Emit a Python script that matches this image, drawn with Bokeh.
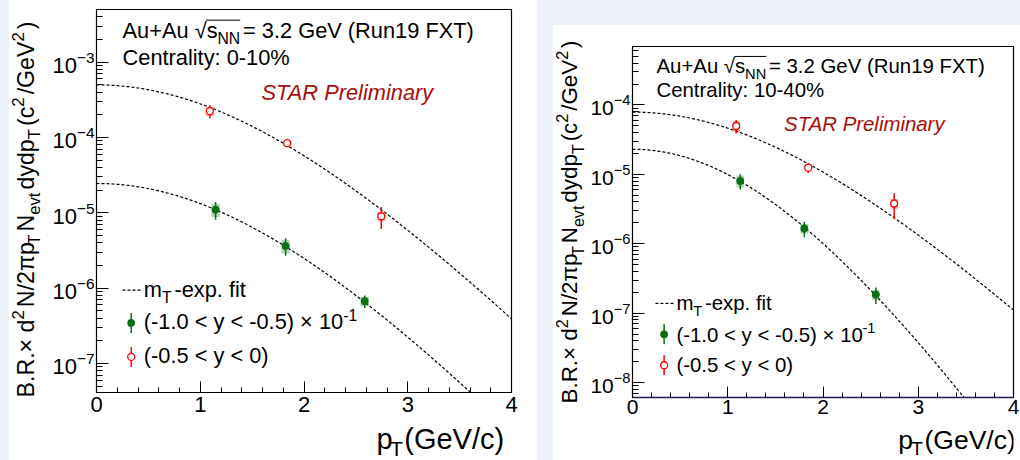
import numpy as np
from math import pi
from bokeh.plotting import figure
from bokeh.layouts import row, column
from bokeh.models import Label, Range1d, SingleIntervalTicker, LogTicker
from bokeh.embed import file_html
from bokeh.resources import INLINE

# ---------------- data ----------------
MASS = 2.991  # GeV/c^2, mT-exponential fit

# Panel 1: centrality 0-10 %
c1_pt_red = [1.093, 1.839, 2.745]
c1_y_red = [2.24e-4, 8.4e-5, 9.0e-6]
c1_stat_red = [0.45e-4, 0.9e-5, 2.9e-6]
c1_sys_red = [0.33e-4, 0.7e-5, 1.3e-6]
c1_pt_green = [1.148, 1.823, 2.585]
c1_y_green = [1.1e-5, 3.63e-6, 6.7e-7]
c1_stat_green = [2.9e-6, 0.95e-6, 1.25e-7]
c1_sys_green = [2.2e-6, 0.75e-6, 0.9e-7]
c1_fit_A = [5.0e-4, 2.45e-5]      # red, green
c1_fit_T = [0.280, 0.265]

# Panel 2: centrality 10-40 %
c2_pt_red = [1.089, 1.846, 2.747]
c2_y_red = [4.98e-5, 1.25e-5, 3.8e-6]
c2_stat_red = [1.1e-5, 0.2e-5, 1.55e-6]
c2_sys_red = [0.88e-5, 0.16e-5, 0.6e-6]
c2_pt_green = [1.131, 1.804, 2.555]
c2_y_green = [8.05e-6, 1.66e-6, 1.85e-7]
c2_stat_green = [2.0e-6, 0.42e-6, 0.5e-7]
c2_sys_green = [1.6e-6, 0.27e-6, 0.3e-7]
c2_fit_A = [7.9e-5, 2.3e-5]
c2_fit_T = [0.305, 0.194]

x_ticks_interval = 1
centralities = ["Centrality: 0-10%", "Centrality: 10-40%"]

# ---------------- styling helpers ----------------
FONT = "Liberation Sans"
RED = "#ff0000"
GREEN = "#0a6e12"
BG = "#edf2fa"
BOXW = 0.04
SCR, SUB, SUP, GAP = 0.72, 0.27, 0.42, 0.13
CEN = 0.36  # baseline -> visual centre of the glyphs

W = {' ': 278, '!': 278, '(': 333, ')': 333, '+': 584, '-': 333, '.': 278, '/': 278,
     ':': 278, '<': 584, '=': 584, '>': 584, '%': 889, '×': 584, 'π': 577, '√': 549,
     'A': 667, 'B': 667, 'C': 722, 'F': 611, 'G': 778, 'N': 722, 'P': 667, 'R': 722,
     'S': 667, 'T': 611, 'V': 667, 'X': 667, 'a': 556, 'c': 500, 'd': 556, 'e': 556,
     'f': 278, 'i': 222, 'l': 222, 'm': 833, 'n': 556, 'p': 556, 'r': 333, 's': 500,
     't': 278, 'u': 556, 'v': 500, 'x': 500, 'y': 500}


def tw(s):
    return sum(W.get(c, 556) for c in s) / 1000.0


class Geo:
    """maps absolute picture pixels to data coords for one main panel"""
    def __init__(self, fl, ft, fr, fb, ltop, lbot):
        self.fl, self.ft, self.fr, self.fb = fl, ft, fr, fb
        self.ltop, self.lbot = ltop, lbot

    def __call__(self, X, Y):
        xd = (X - self.fl) / (self.fr - self.fl) * 4.0
        yl = self.ltop - (Y - self.ft) / (self.fb - self.ft) * (self.ltop - self.lbot)
        return xd, 10 ** yl


def ident(X, Y):
    return X, Y


def rich(p, g, X, Y, segs, size, color="black", vertical=False, style="normal", sub=SUB):
    pos = 0.0
    marks = []
    for txt, kind in segs:
        if kind == "n":
            s, off = size, 0.0
        elif kind == "sub":
            s, off = size * SCR, -sub * size
        else:
            s, off = size * SCR, SUP * size
        up = off + CEN * s
        if vertical:
            ax, ay = X - up, Y - pos
        else:
            ax, ay = X + pos, Y - up
        xd, yd = g(ax, ay)
        p.add_layout(Label(x=xd, y=yd, text=txt, angle=pi / 2 if vertical else 0,
                           text_font=FONT, text_font_size=f"{s:.2f}px", text_color=color,
                           text_font_style=style, text_baseline="alphabetic", text_align="left"))
        marks.append(pos)
        pos += tw(txt) * s + (GAP * size if kind != "n" else 0)
    marks.append(pos)
    return marks


def helper_fig(x0, x1, y0, y1):
    """blank figure whose data coords are absolute picture pixels (for axis titles)"""
    p = figure(width=x1 - x0, height=y1 - y0, x_range=Range1d(x0, x1), y_range=Range1d(y1, y0),
               output_backend="svg", toolbar_location=None,
               x_axis_location=None, y_axis_location=None,
               min_border_left=0, min_border_right=0, min_border_top=0, min_border_bottom=0)
    p.title.visible = False
    p.xgrid.visible = False
    p.ygrid.visible = False
    p.outline_line_color = None
    p.background_fill_color = "white"
    p.border_fill_color = "white"
    return p


def make_fig(x0, x1, y0, y1, g, tick_fs, axis_color="black", x_standoff=4):
    W_, H_ = x1 - x0, y1 - y0
    p = figure(width=W_, height=H_, x_range=Range1d(0, 4),
               y_range=Range1d(10 ** g.lbot, 10 ** g.ltop), y_axis_type="log",
               output_backend="svg", toolbar_location=None,
               min_border_left=int(round(g.fl - x0)), min_border_right=int(round(x1 - g.fr)),
               min_border_top=int(round(g.ft - y0)), min_border_bottom=int(round(y1 - g.fb)))
    p.title.visible = False
    p.xgrid.visible = False
    p.ygrid.visible = False
    p.background_fill_color = "white"
    p.border_fill_color = "white"
    p.outline_line_color = "black"
    p.outline_line_width = 1.2
    p.xaxis.ticker = SingleIntervalTicker(interval=x_ticks_interval, num_minor_ticks=5)
    p.yaxis.ticker = LogTicker(num_minor_ticks=10)
    for ax in (p.xaxis[0], p.yaxis[0]):
        ax.major_tick_out = 0
        ax.minor_tick_out = 0
        ax.major_tick_line_color = "black"
        ax.minor_tick_line_color = "black"
        ax.major_label_text_font = FONT
        ax.major_label_text_font_size = f"{tick_fs}px"
        ax.major_label_text_color = "black"
        ax.axis_line_color = "black"
    p.xaxis.major_tick_in = 11
    p.xaxis.minor_tick_in = 5
    p.yaxis.major_tick_in = 12
    p.yaxis.minor_tick_in = 6
    p.xaxis.major_label_standoff = x_standoff
    p.yaxis.major_label_standoff = 2
    p.xaxis.axis_line_color = axis_color
    p.xaxis.axis_line_width = 1.6 if axis_color != "black" else 1.2
    return p


pt_grid = np.linspace(0, 4, 300)


def mt_exp(A, T):
    return A * np.exp(-(np.sqrt(pt_grid ** 2 + MASS ** 2) - MASS) / T)


def draw_series(p, pt, yv, stat, sys, color, open_marker):
    pt = np.array(pt); yv = np.array(yv); stat = np.array(stat); sys = np.array(sys)
    p.quad(left=pt - BOXW, right=pt + BOXW, bottom=yv - sys, top=yv + sys,
           fill_color=color, fill_alpha=0.3, line_color=None)
    p.segment(x0=pt, y0=yv - stat, x1=pt, y1=yv + stat, line_color=color, line_width=1.5)
    p.scatter(pt, yv, marker="circle", size=7 if open_marker else 6.5,
              fill_color="white" if open_marker else color, line_color=color, line_width=1.3)


def panel(p, g, data, fit_A, fit_T, cent, fs, hdr, star, leg):
    (pr, yr, sr, syr, pg, yg, sg, syg) = data
    for A, T in zip(fit_A, fit_T):
        p.line(pt_grid, mt_exp(A, T), line_dash="3 2", line_color="black", line_width=1.2)
    draw_series(p, pg, yg, sg, syg, GREEN, False)
    draw_series(p, pr, yr, sr, syr, RED, True)

    # header
    X0, Yb1, Yb2 = hdr
    m = rich(p, g, X0, Yb1, [("Au+Au ", "n"), ("√", "n"), ("s", "n"), ("NN", "sub"),
                             (" = 3.2 GeV (Run19 FXT)", "n")], fs)
    bx0, by = g(X0 + m[2] - 0.5, Yb1 - 0.85 * fs)
    bx1, _ = g(X0 + m[4] - GAP * fs, Yb1 - 0.85 * fs)
    p.segment(x0=[bx0], y0=[by], x1=[bx1], y1=[by], line_color="black", line_width=1)
    rich(p, g, X0, Yb2, [(cent, "n")], fs)
    sx, sy = star
    rich(p, g, sx, sy, [("STAR Preliminary", "n")], fs, color="#a80d0d", style="italic")

    # legend
    lx0, lx1, ly, tx, tb, mx, my2, my3 = leg
    a0, b0 = g(lx0, ly)
    a1, _ = g(lx1, ly)
    p.segment(x0=[a0], y0=[b0], x1=[a1], y1=[b0], line_color="black", line_dash="3 2", line_width=1.2)
    rich(p, g, tx, tb[0], [("m", "n"), ("T", "sub"), ("-exp. fit", "n")], fs)
    for (myy, col, opn, segs, tbb) in [
            (my2, GREEN, False, [("(-1.0 < y < -0.5) × 10", "n"), ("-1", "sup")], tb[1]),
            (my3, RED, True, [("(-0.5 < y < 0)", "n")], tb[2])]:
        cx, cy = g(mx, myy)
        _, ct = g(mx, myy - 10)
        _, cb = g(mx, myy + 10)
        p.segment(x0=[cx], y0=[cb], x1=[cx], y1=[ct], line_color=col, line_width=1.5)
        p.scatter([cx], [cy], marker="circle", size=7 if opn else 6.5,
                  fill_color="white" if opn else col, line_color=col, line_width=1.3)
        rich(p, g, tx, tbb, segs, fs)


YT_SEGS = [("B.R.× d", "n"), ("2", "sup"), ("N/2πp", "n"), ("T", "sub"), ("N", "n"),
           ("evt", "sub"), ("dydp", "n"), ("T", "sub"), ("(c", "n"), ("2", "sup"),
           ("/GeV", "n"), ("2", "sup"), (")", "n")]
XT_SEGS = [("p", "n"), ("T", "sub"), ("(GeV/c)", "n")]

# ---------------- panel 1 (x 9..537, y 0..460) ----------------
g1 = Geo(96, 9.3, 510.8, 392.3, -2.30, -7.387)
p1 = make_fig(48, 537, 0, 424, g1, 22)
panel(p1, g1,
      (c1_pt_red, c1_y_red, c1_stat_red, c1_sys_red, c1_pt_green, c1_y_green, c1_stat_green, c1_sys_green),
      c1_fit_A, c1_fit_T, centralities[0], 21.8,
      hdr=(122, 38.5, 65.5), star=(261, 100.5),
      leg=(122, 140, 290, 143.3, (296.7, 329.5, 363), 130.7, 322.7, 356.7))
yt1 = helper_fig(9, 48, 0, 460)
rich(yt1, ident, 33.5, 397, YT_SEGS, 23.2, vertical=True)
xt1 = helper_fig(48, 537, 424, 460)
rich(xt1, ident, 378, 448.5, XT_SEGS, 29, sub=0.23)

# ---------------- panel 2 (x 553..1020, y 25..460) ----------------
g2 = Geo(631, 45.7, 1013, 397.3, -3.157, -8.216)
p2 = make_fig(587, 1020, 25, 424, g2, 21, axis_color="#1e1e50", x_standoff=2)
panel(p2, g2,
      (c2_pt_red, c2_y_red, c2_stat_red, c2_sys_red, c2_pt_green, c2_y_green, c2_stat_green, c2_sys_green),
      c2_fit_A, c2_fit_T, centralities[1], 20.4,
      hdr=(655, 73, 97), star=(783, 131),
      leg=(654, 673, 303, 675, (310, 341.7, 371.7), 662.7, 334, 365))
yt2 = helper_fig(553, 587, 25, 460)
rich(yt2, ident, 577, 403, YT_SEGS, 22.4, vertical=True)
xt2 = helper_fig(587, 1020, 424, 460)
rich(xt2, ident, 889, 449, XT_SEGS, 26.5, sub=0.23)

left_block = row(yt1, column(p1, xt1, styles={"background-color": "white"}),
                 styles={"background-color": "white"})
right_block = row(yt2, column(p2, xt2, styles={"background-color": "white"}),
                  styles={"background-color": "white"})
left_block.margin = (0, 0, 0, 9)
right_block.margin = (25, 0, 0, 16)
layout = row(left_block, right_block, styles={"background-color": BG})

open("out.html", "w").write(file_html(layout, INLINE))
